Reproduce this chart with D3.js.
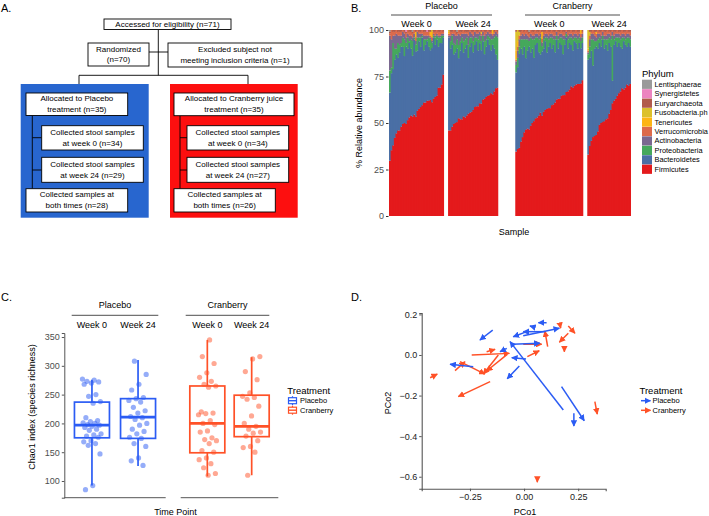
<!DOCTYPE html>
<html><head><meta charset="utf-8">
<script src="https://cdn.jsdelivr.net/npm/d3@7"></script>
<style>
body{margin:0;background:#fff}
svg{display:block}
text{font-family:"Liberation Sans",Arial,Helvetica,sans-serif}
</style>
</head><body>
<svg id="fig" width="709" height="516"></svg>
<script>
// ---------------- DATA ----------------
// Panel A flowchart texts
const flowTop = ["Accessed for eligibility (n=71)"];
const flowRandom = ["Randomized", "(n=70)"];
const flowExcluded = ["Excluded subject not", "meeting inclusion criteria (n=1)"];
const flowPlacebo = [["Allocated to Placebo","treatment (n=35)"],["Collected stool samples","at week 0 (n=34)"],["Collected stool samples","at week 24 (n=29)"],["Collected samples at","both times (n=28)"]];
const flowCranberry = [["Allocated to Cranberry juice","treatment (n=35)"],["Collected stool samples","at week 0 (n=34)"],["Collected stool samples","at week 24 (n=27)"],["Collected samples at","both times (n=26)"]];

// Panel B: phyla (stack order bottom -> top) and colours
const phyla = ["Firmicutes","Bacteroidetes","Proteobacteria","Actinobacteria","Verrucomicrobia","Tenericutes","Fusobacteria.ph","Euryarchaeota","Synergistetes","Lentisphaerae"];
const phylaColors = ["#e41a1c","#4a6fa5","#45a85c","#7a6890","#dd6a4b","#fdb515","#dcc12c","#b25b4c","#ec84c0","#9a9a9a"];
const groups = ["Placebo","Cranberry"];
const weeks = ["Week 0","Week 24"];
const bTicks = [0,25,50,75,100];

// Placebo week 0
const p0Firm = [30,35,38,42,44,46,46,48,49,50,50,51,53,54,54,54,55,56,57,58,59,61,61,62,62,63,63,63,64,64,69,69,70,76];
const p0Bact = [37,41,41,42,42,39,42,43,41,36,42,38,40,36,33,40,36,32,36,32,36,28,31,32,29,27,30,33,28,30,22,24,22,20];
const p0Prot = [12,3,14,6,3,8,4,2,5,9,2,6,1,5,8,1,4,7,2,5,1,6,3,1,5,6,3,1,4,2,5,3,4,1];
const p0Acti = [19,15,4,7,8,4,5,4,3,3,3,2,3,2,2,2,2,3,2,2,1,2,2,2,1,1,1,1,1,1,1,1,1,1];
const p0Verr = [1,5,2,2,2,2,2,2,1,1,2,2,2,2,2,2,2,1,1,1,2,2,2,2,2,1,2,1,2,2,2,2,2,1];
const p0Tene = [0,0,0,0,0,0,0,0,0,0,0,0,0,0,0,0,3,0,0,0,0,0,0,0,0,2,3,0,0,0,0,0,0,0];
const p0Fuso = [0,0,0,0,0,0,0,0,0,0,0,0,0,0,0,0,0,0,0,0,0,0,0,0,0,0,1,0,0,0,0,0,0,0];
const p0Eury = [1,0,1,1,0,1,1,1,0,1,1,0,1,1,1,0,1,0,1,1,0,1,1,0,1,1,0,1,1,0,1,1,0,1];
const p0Syne = [0,0,0,0,0,0,0,0,0,0,1,0,0,0,0,0,0,0,0,0,0,0,0,1,0,0,0,0,0,0,0,0,0,0];
const p0Lent = [1,0,0,0,0,0,0,0,0,0,0,0,0,0,1,0,0,0,0,0,0,0,0,0,0,0,0,0,0,0,0,0,0,0];
// Placebo week 24
const p24Firm = [46,46,48,49,50,51,52,52,52,53,53,54,55,55,56,57,58,59,59,60,61,62,63,64,64,65,66,66,67,68,69];
const p24Bact = [50,44,44,37,38,40,32,37,41,34,37,38,30,35,37,31,33,35,30,32,29,31,24,27,30,27,23,27,23,18,15];
const p24Prot = [0,4,5,6,4,5,7,5,3,6,5,4,7,5,3,6,4,2,6,4,5,3,7,4,2,4,6,3,6,10,12];
const p24Acti = [1,3,1,5,5,2,6,3,2,4,3,2,5,3,2,3,3,2,3,2,3,2,3,3,2,2,3,2,2,2,2];
const p24Verr = [1,2,1,2,2,1,2,2,1,2,1,1,2,1,1,2,1,1,1,1,1,1,2,1,1,1,1,1,1,1,1];
const p24Tene = [1,0,0,0,0,0,0,0,0,0,0,0,0,0,0,0,0,0,0,0,1,0,0,0,0,0,0,2,0,0,0];
const p24Fuso = [1,0,0,0,0,0,0,0,0,0,0,0,0,0,0,0,0,0,0,0,0,0,0,0,0,0,0,0,0,0,0];
const p24Eury = [0,1,1,0,1,1,0,1,1,0,1,1,1,0,1,1,0,1,1,0,1,0,1,1,0,1,1,0,1,0,1];
const p24Syne = [0,0,0,0,0,0,0,0,0,0,0,0,0,0,0,0,0,0,0,0,0,0,0,0,0,0,0,0,0,0,0];
const p24Lent = [0,0,0,0,0,1,0,0,0,0,0,0,0,0,0,0,0,0,0,0,0,0,0,0,0,0,0,0,0,0,0];
// Cranberry week 0
const c0Firm = [35,36,37,40,42,45,46,47,47,48,50,51,52,53,54,55,56,56,57,57,58,58,59,60,61,62,63,63,64,65,65,66,67,68,69,69,70,70,71,71,72,73];
const c0Bact = [43,44,51,50,44,46,38,42,45,39,40,34,39,40,34,31,36,34,37,30,33,35,30,32,27,32,27,30,27,22,27,29,23,25,22,20,24,22,19,22,19,20];
const c0Prot = [4,5,4,5,8,4,10,6,3,8,5,10,4,3,7,9,3,5,2,8,4,3,6,3,7,2,5,3,4,8,3,2,5,3,4,6,2,3,5,3,4,3];
const c0Acti = [2,4,4,2,3,2,3,2,2,2,2,2,2,2,2,2,2,2,2,2,2,2,2,2,2,2,2,2,2,2,2,1,2,2,2,2,2,2,2,2,2,2];
const c0Verr = [1,2,2,2,2,2,2,2,2,2,2,2,2,1,2,2,2,2,1,2,2,1,2,2,2,1,2,1,2,2,2,1,2,1,2,2,1,2,2,1,2,1];
const c0Tene = [5,3,0,0,0,0,0,0,0,0,0,0,0,0,0,0,4,0,0,0,0,0,0,0,0,0,0,0,0,0,0,0,0,0,0,0,0,0,0,0,2,0];
const c0Fuso = [10,6,2,0,0,0,0,0,0,0,0,0,0,0,0,0,0,0,0,0,0,0,0,0,0,0,0,0,0,0,0,0,0,0,0,0,0,0,0,0,0,0];
const c0Eury = [1,0,1,1,0,1,0,1,1,0,1,1,0,1,1,0,1,1,1,0,1,1,0,1,1,0,1,1,0,1,1,0,1,1,0,1,1,0,1,1,0,1];
const c0Syne = [0,0,0,0,0,0,0,0,0,0,0,0,0,0,0,0,0,0,0,0,0,0,0,0,0,0,0,0,0,0,0,0,0,0,0,0,0,0,0,0,0,0];
const c0Lent = [0,0,0,0,0,0,0,0,1,0,0,0,0,0,0,0,0,0,0,0,0,0,0,0,0,0,0,0,0,0,0,0,0,0,0,0,0,0,0,0,0,0];
// Cranberry week 24
const c24Firm = [33,38,40,42,43,44,45,49,50,50,51,52,52,55,57,60,62,63,64,66,67,68,68,69,70,70,71];
const c24Bact = [51,48,48,38,47,48,44,44,41,44,39,40,36,38,34,12,30,31,26,27,24,21,26,23,20,23,20];
const c24Prot = [3,6,6,14,4,3,5,3,4,2,5,3,6,3,4,24,3,2,5,3,4,6,2,3,5,3,4];
const c24Acti = [1,4,3,3,3,2,3,2,2,2,2,2,3,2,2,2,2,2,2,2,2,2,2,2,2,2,2];
const c24Verr = [1,2,1,2,2,2,2,1,2,1,2,2,2,1,2,1,2,1,2,1,2,2,1,2,2,1,2];
const c24Tene = [1,0,0,0,0,1,0,0,0,0,0,0,0,0,0,0,0,0,0,0,0,0,0,0,0,0,0];
const c24Fuso = [10,2,0,0,0,0,0,0,0,0,0,0,0,0,0,0,0,0,0,0,0,0,0,0,0,0,0];
const c24Eury = [0,1,1,0,1,1,0,1,1,0,1,1,0,1,1,0,1,1,0,1,1,0,1,1,0,1,1];
const c24Syne = [0,0,0,0,0,0,0,0,0,0,0,0,0,0,0,0,0,0,0,0,0,0,0,0,0,0,0];
const c24Lent = [0,0,0,0,0,0,0,0,0,0,0,0,0,0,0,0,0,0,0,0,0,0,0,0,0,0,0];

// Panel C: Chao1 richness
const chaoTicks = [100,150,200,250,300,350];
const chaoP0 = [277,275,273,272,270,268,250,247,238,235,210,205,203,201,200,198,197,195,193,190,188,182,180,178,176,170,168,165,162,147,92,85];
const chaoP24 = [308,285,268,258,245,243,240,237,228,222,218,212,210,207,200,197,190,186,182,176,174,165,160,140,135,127];
const chaoC0 = [345,316,304,288,280,273,268,265,263,220,218,217,215,205,200,198,187,185,175,172,170,165,153,150,140,137,130,123,113,110];
const chaoC24 = [316,312,290,276,253,247,245,242,230,213,200,195,190,185,183,178,170,160,158,150,110];
// box stats (Placebo W0, Placebo W24, Cranberry W0, Cranberry W24)
const boxLow = [92,126,108,110];
const boxQ1 = [175,174,149,177];
const boxMed = [197,211,200,195];
const boxQ3 = [237,243,265,249];
const boxHigh = [276,310,345,315];

// Panel D: PCoA arrows week0 -> week24
const pcoTicksX = [-0.25,0,0.25];
const pcoTicksY = [0.2,0,-0.2,-0.4,-0.6];
const plaX0 = [-0.145,0.181,0.173,0.230,-0.235,-0.022,0.009,-0.080,-0.057,-0.004,0.104,0.050,0.096,0.012];
const plaY0 = [0.123,-0.271,-0.156,-0.287,-0.058,-0.054,-0.020,0.033,0.053,0.095,0.159,0.136,0.115,0.115];
const plaX1 = [-0.204,-0.065,0.278,0.230,-0.342,-0.078,-0.057,-0.111,0.073,0.163,0.066,0.027,-0.004,-0.050];
const plaY1 = [0.074,0.066,-0.324,-0.350,-0.046,-0.117,-0.013,0.016,0.058,0.132,0.159,0.143,0.115,0.090];
const craX0 = [-0.157,-0.242,-0.078,-0.119,-0.296,-0.319,-0.434,-0.173,0.015,-0.004,0.109,0.166,0.204,0.204,0.186,0.327,0.061];
const craY0 = [-0.131,0.000,0.003,0.000,-0.033,-0.077,-0.112,0.016,-0.008,0.053,0.041,0.148,0.143,0.107,0.041,-0.230,-0.612];
const craX1 = [-0.304,-0.068,-0.173,-0.188,-0.181,-0.273,-0.401,-0.134,0.070,0.081,0.096,0.169,0.235,0.163,0.186,0.338,0.061];
const craY1 = [-0.205,0.008,-0.079,-0.094,-0.094,-0.033,-0.094,0.028,0.021,0.053,0.118,0.132,0.107,0.063,0.016,-0.291,-0.627];

// ---------------- DRAW ----------------
const svg = d3.select("#fig");
const FONT = "Liberation Sans, Arial, Helvetica, sans-serif";
const blueFlow = "#2866cf", redFlow = "#fd0f0f";
const cBlue = "#2b5cf4", cRed = "#ff5127";
const tickCol = "#4d4d4d", axisCol = "#555";

// panel letters
[["A.",1,9],["B.",351,9],["C.",1,298],["D.",351,298]].forEach(([t,x,y]) =>
  svg.append("text").attr("x",x).attr("y",y).attr("dominant-baseline","middle")
     .attr("font-size",11).text(t));

// ---- Panel A ----
const A = svg.append("g");
function flowBox(x,y,w,h,lines){
  A.append("rect").attr("x",x).attr("y",y).attr("width",w).attr("height",h)
    .attr("fill","#fff").attr("stroke","#000").attr("stroke-width",0.9);
  const cy = y+h/2, n = lines.length;
  lines.forEach((l,i)=>{
    A.append("text").attr("x",x+w/2).attr("y",cy+(i-(n-1)/2)*10.8)
     .attr("text-anchor","middle").attr("dominant-baseline","central")
     .attr("font-size",8).text(l);
  });
}
function ln(x1,y1,x2,y2){A.append("line").attr("x1",x1).attr("y1",y1).attr("x2",x2).attr("y2",y2).attr("stroke","#000").attr("stroke-width",0.9);}
ln(158.3,29.5,158.3,75.3); ln(149,52,168,52); ln(79,75.3,248,75.3); ln(79,75.3,79,84); ln(248,75.3,248,84);
A.append("rect").attr("x",20.7).attr("y",84).attr("width",128).attr("height",133.7).attr("fill",blueFlow);
A.append("rect").attr("x",170).attr("y",84).attr("width",127.7).attr("height",133.7).attr("fill",redFlow);
flowBox(104,19,127,10.5,flowTop);
flowBox(88,43,61,23,flowRandom);
flowBox(168,43,134,24,flowExcluded);
ln(32.3,115.5,32.3,188.7); ln(32.3,137.7,41.7,137.7); ln(32.3,170,41.7,170);
ln(180,115.7,180,188.7); ln(180,137.7,187,137.7); ln(180,170,187,170);
flowBox(26,93,101.7,22.5,flowPlacebo[0]);
flowBox(41.7,125.7,101.6,24.3,flowPlacebo[1]);
flowBox(41.7,157.3,101.6,25,flowPlacebo[2]);
flowBox(26,188.7,101.7,23.3,flowPlacebo[3]);
flowBox(174,93,120,22.7,flowCranberry[0]);
flowBox(187,125.7,101.7,24.3,flowCranberry[1]);
flowBox(187,157.3,101.7,25,flowCranberry[2]);
flowBox(174,188.7,101.3,23.3,flowCranberry[3]);

// ---- Panel B ----
const B = svg.append("g");
const facetsB = [
  [p0Firm,p0Bact,p0Prot,p0Acti,p0Verr,p0Tene,p0Fuso,p0Eury,p0Syne,p0Lent],
  [p24Firm,p24Bact,p24Prot,p24Acti,p24Verr,p24Tene,p24Fuso,p24Eury,p24Syne,p24Lent],
  [c0Firm,c0Bact,c0Prot,c0Acti,c0Verr,c0Tene,c0Fuso,c0Eury,c0Syne,c0Lent],
  [c24Firm,c24Bact,c24Prot,c24Acti,c24Verr,c24Tene,c24Fuso,c24Eury,c24Syne,c24Lent]
];
const yB = d3.scaleLinear().domain([0,1]).range([216,30]);
const totalBars = d3.sum(facetsB, f => f[0].length);
const barW = 217/totalBars;
const gapsB = [0,4,17,4];
let xCursor = 389;
const facetRanges = facetsB.map((f,k)=>{ xCursor += gapsB[k]; const r=[xCursor, xCursor+f[0].length*barW]; xCursor=r[1]; return r; });
const stackB = d3.stack().keys(phyla).offset(d3.stackOffsetExpand);
facetsB.forEach((f,k)=>{
  const n = f[0].length;
  const rows = d3.range(n).map(i=>{const o={idx:i}; phyla.forEach((p,j)=>o[p]=f[j][i]||0); return o;});
  const x = d3.scaleBand().domain(d3.range(n)).range(facetRanges[k]).padding(0);
  const series = stackB(rows);
  // one group per bar so each bar fully covers the overlap of its neighbour
  const bars = d3.range(n).map(i => series.map((s,j)=>({seg:s[i], j:j, i:i})));
  B.append("g").selectAll("g").data(bars).join("g")
    .selectAll("rect").data(b=>b).join("rect")
    .attr("fill",d=>phylaColors[d.j])
    .attr("x",d=>x(d.i)).attr("width",d=> d.i===n-1 ? x.bandwidth() : x.bandwidth()+0.9)
    .attr("y",d=>yB(d.seg[1])).attr("height",d=>Math.max(0,yB(d.seg[0])-yB(d.seg[1])));
  B.append("text").attr("x",(facetRanges[k][0]+facetRanges[k][1])/2).attr("y",24)
    .attr("text-anchor","middle").attr("dominant-baseline","central").attr("font-size",9).text(weeks[k%2]);
});
// group strips
[[groups[0],391,492],[groups[1],525,620]].forEach(([t,x1,x2])=>{
  B.append("text").attr("x",(x1+x2)/2).attr("y",6).attr("text-anchor","middle").attr("dominant-baseline","central").attr("font-size",9).text(t);
  B.append("line").attr("x1",x1).attr("x2",x2).attr("y1",15).attr("y2",15).attr("stroke","#222").attr("stroke-width",0.8);
});
const yAxisB = d3.axisLeft(d3.scaleLinear().domain([0,100]).range([216,30])).tickValues(bTicks).tickSize(2.5).tickPadding(2);
const gyB = B.append("g").attr("transform","translate(388.5,0)").call(yAxisB);
gyB.select(".domain").remove();
gyB.selectAll("text").attr("font-size",9).attr("fill",tickCol).attr("font-family",FONT);
gyB.selectAll("line").attr("stroke","#333");
B.append("text").attr("transform","translate(358.5,123) rotate(-90)").attr("text-anchor","middle").attr("dominant-baseline","central").attr("font-size",9).text("% Relative abundance");
B.append("text").attr("x",514).attr("y",232).attr("text-anchor","middle").attr("dominant-baseline","central").attr("font-size",9).text("Sample");
// legend
B.append("text").attr("x",642).attr("y",73).attr("dominant-baseline","central").attr("font-size",9.5).text("Phylum");
const legOrder = phyla.slice().reverse();
legOrder.forEach((p,i)=>{
  const yy = 84.3 + i*9.44;
  B.append("rect").attr("x",642).attr("y",yy-4.6).attr("width",10).attr("height",9.2).attr("fill",phylaColors[phyla.indexOf(p)]);
  B.append("text").attr("x",654.5).attr("y",yy).attr("dominant-baseline","central").attr("font-size",7.4).text(p);
});

// ---- Panel C ----
const C = svg.append("g");
const yC = d3.scaleLinear().domain([71,357]).range([497.7,333]);
const facetC = [[64.3,165.7],[180.7,278.3]];
const chaoData = [chaoP0,chaoP24,chaoC0,chaoC24];
const colsC = [cBlue,cBlue,cRed,cRed];
const xC = facetC.map(r=>d3.scalePoint().domain(weeks).range(r).padding(0.6));
const bw = 35;
chaoData.forEach((vals,k)=>{
  const g = Math.floor(k/2), cx = xC[g](weeks[k%2]), col = colsC[k];
  C.append("line").attr("x1",cx).attr("x2",cx).attr("y1",yC(boxLow[k])).attr("y2",yC(boxQ1[k])).attr("stroke",col).attr("stroke-width",1.7);
  C.append("line").attr("x1",cx).attr("x2",cx).attr("y1",yC(boxQ3[k])).attr("y2",yC(boxHigh[k])).attr("stroke",col).attr("stroke-width",1.7);
  C.append("rect").attr("x",cx-bw/2).attr("width",bw).attr("y",yC(boxQ3[k])).attr("height",yC(boxQ1[k])-yC(boxQ3[k]))
    .attr("fill","#fff").attr("stroke",col).attr("stroke-width",1.7);
  C.append("line").attr("x1",cx-bw/2).attr("x2",cx+bw/2).attr("y1",yC(boxMed[k])).attr("y2",yC(boxMed[k])).attr("stroke",col).attr("stroke-width",2.8);
  C.selectAll(null).data(vals).join("circle")
    .attr("cx",(v,i)=>cx + (((i*0.618034+0.31*k)%1)-0.5)*19)
    .attr("cy",v=>yC(v)).attr("r",2.6).attr("fill",col).attr("fill-opacity",0.5);
});
facetC.forEach(r=>{
  C.append("line").attr("x1",r[0]).attr("x2",r[1]).attr("y1",497.7).attr("y2",497.7).attr("stroke",axisCol).attr("stroke-width",1);
});
const gyC = C.append("g").attr("transform","translate(64.3,0)").call(d3.axisLeft(yC).tickValues(chaoTicks).tickSize(2.5).tickPadding(2));
gyC.select(".domain").attr("stroke",axisCol);
gyC.selectAll("line").attr("stroke",axisCol);
gyC.selectAll("text").attr("font-size",9).attr("fill",tickCol).attr("font-family",FONT);
[[groups[0],71.7,158.3],[groups[1],185.7,269.3]].forEach(([t,x1,x2],g)=>{
  C.append("text").attr("x",(x1+x2)/2).attr("y",305).attr("text-anchor","middle").attr("dominant-baseline","central").attr("font-size",9).text(t);
  C.append("line").attr("x1",x1).attr("x2",x2).attr("y1",315.3).attr("y2",315.3).attr("stroke","#222").attr("stroke-width",0.8);
  weeks.forEach(w=>C.append("text").attr("x",xC[g](w)).attr("y",325).attr("text-anchor","middle").attr("dominant-baseline","central").attr("font-size",9).text(w));
});
C.append("text").attr("transform","translate(31.5,407) rotate(-90)").attr("text-anchor","middle").attr("dominant-baseline","central").attr("font-size",9).text("Chao1 index (species richness)");
C.append("text").attr("x",175.5).attr("y",512).attr("text-anchor","middle").attr("dominant-baseline","central").attr("font-size",9).text("Time Point");
C.append("text").attr("x",287.3).attr("y",390).attr("dominant-baseline","central").attr("font-size",9.5).text("Treatment");
groups.forEach((t,i)=>{
  const yy = 400.7 + i*9.5, col = i? cRed : cBlue;
  C.append("line").attr("x1",292.5).attr("x2",292.5).attr("y1",yy-4.5).attr("y2",yy+4.5).attr("stroke",col).attr("stroke-width",1.2);
  C.append("rect").attr("x",288.5).attr("y",yy-3).attr("width",8).attr("height",6).attr("fill","#fff").attr("stroke",col).attr("stroke-width",1.2);
  C.append("line").attr("x1",288.5).attr("x2",296.5).attr("y1",yy).attr("y2",yy).attr("stroke",col).attr("stroke-width",1.4);
  C.append("text").attr("x",300).attr("y",yy).attr("dominant-baseline","central").attr("font-size",7.5).text(t);
});

// ---- Panel D ----
const D = svg.append("g");
const xD = d3.scaleLinear().domain([-0.473,0.377]).range([421.7,605.7]);
const yD = d3.scaleLinear().domain([-0.659,0.207]).range([488.7,313]);
const defs = svg.append("defs");
[["hb",cBlue],["hr",cRed]].forEach(([id,col])=>{
  defs.append("marker").attr("id",id).attr("viewBox","0 0 10 10").attr("refX",9).attr("refY",5)
    .attr("markerWidth",6.5).attr("markerHeight",6.5).attr("markerUnits","userSpaceOnUse").attr("orient","auto")
    .append("path").attr("d","M0,0 L10,5 L0,10 z").attr("fill",col);
});
const gxD = D.append("g").attr("transform","translate(0,488.7)").call(d3.axisBottom(xD).tickValues(pcoTicksX).tickSize(2.5).tickPadding(2).tickFormat(d=>d3.format(".2f")(d).replace("-","\u2212")));
const gyD = D.append("g").attr("transform","translate(421.7,0)").call(d3.axisLeft(yD).tickValues(pcoTicksY).tickSize(2.5).tickPadding(2).tickFormat(d=>d3.format(".1f")(d).replace("-","\u2212")));
[gxD,gyD].forEach(g=>{
  g.select(".domain").attr("stroke",axisCol).attr("stroke-width",1.1);
  g.selectAll("line").attr("stroke",axisCol);
  g.selectAll("text").attr("font-size",9).attr("fill","#222").attr("font-family",FONT);
});
function arrows(x0,y0,x1,y1,col,mk){
  D.selectAll(null).data(d3.range(x0.length)).join("line")
    .attr("x1",i=>xD(x0[i])).attr("y1",i=>yD(y0[i])).attr("x2",i=>xD(x1[i])).attr("y2",i=>yD(y1[i]))
    .attr("stroke",col).attr("stroke-width",1.5).attr("marker-end",`url(#${mk})`);
}
arrows(craX0,craY0,craX1,craY1,cRed,"hr");
arrows(plaX0,plaY0,plaX1,plaY1,cBlue,"hb");
D.append("text").attr("x",525).attr("y",512).attr("text-anchor","middle").attr("dominant-baseline","central").attr("font-size",9).text("PCo1");
D.append("text").attr("transform","translate(388,403) rotate(-90)").attr("text-anchor","middle").attr("dominant-baseline","central").attr("font-size",9).text("PCo2");
D.append("text").attr("x",639.5).attr("y",390).attr("dominant-baseline","central").attr("font-size",9.5).text("Treatment");
groups.forEach((t,i)=>{
  const yy = 400.7 + i*9.6;
  D.append("line").attr("x1",641).attr("x2",650.5).attr("y1",yy).attr("y2",yy).attr("stroke",i?cRed:cBlue).attr("stroke-width",1.5).attr("marker-end",`url(#${i?"hr":"hb"})`);
  D.append("text").attr("x",652.5).attr("y",yy).attr("dominant-baseline","central").attr("font-size",7.5).text(t);
});
</script>
</body></html>
